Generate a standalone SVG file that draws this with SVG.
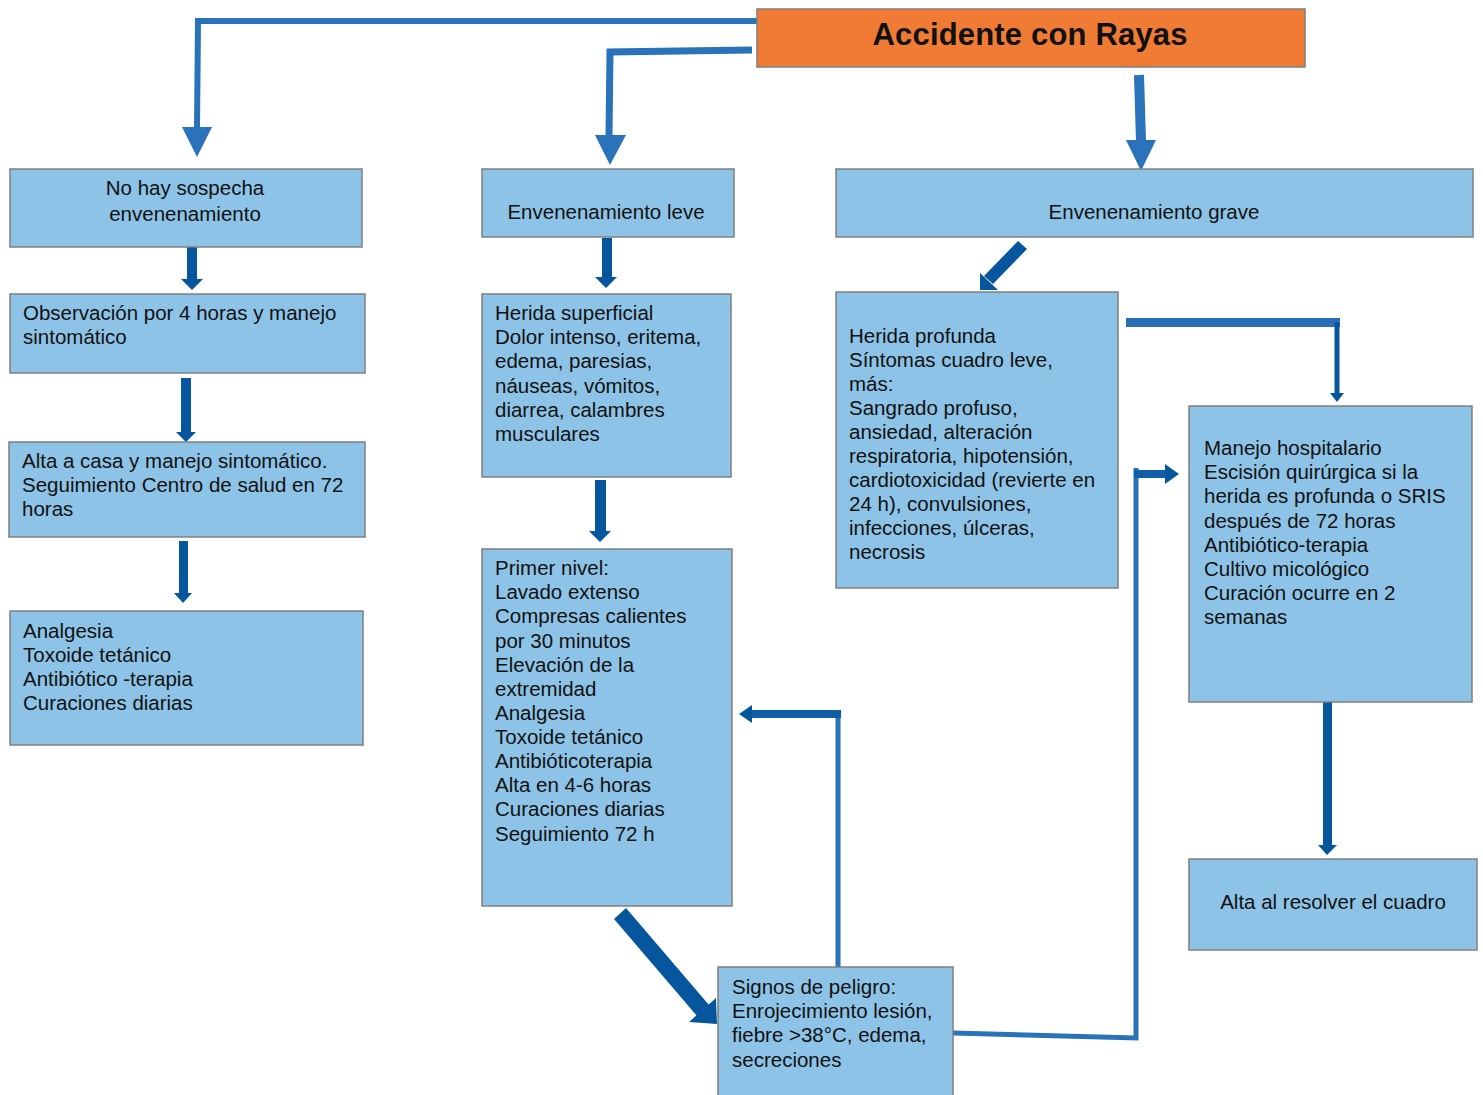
<svg xmlns="http://www.w3.org/2000/svg" width="1483" height="1095" viewBox="0 0 1483 1095">
  <style>
    .box { fill: #8DC3E6; stroke: #7F7F7F; stroke-width: 1.5; }
    .title { fill: #F07B35; stroke: #7F7F7F; stroke-width: 1.5; }
    text { font-family: "Liberation Sans", Arial, sans-serif; font-size: 20.5px; fill: #111; }
    .c { text-anchor: middle; }
    .ttl { font-size: 31px; font-weight: bold; text-anchor: middle; }
    .ln { fill: none; stroke: #2A72B9; stroke-linejoin: miter; }
    .lf { fill: #2A72B9; }
    .dk { fill: #05569D; }
    .dks { fill: none; stroke: #05569D; }
  </style>
  <rect width="1483" height="1095" fill="#FFFFFF"/>

  <!-- connectors -->
  <g id="connectors">
    <!-- root to "No hay sospecha" -->
    <polyline class="ln" stroke-width="6" points="757,21 198,21 197,128"/>
    <polygon class="lf" points="182,127 212,127 197,157"/>
    <!-- root to "Envenenamiento leve" -->
    <polyline class="ln" stroke-width="7" points="752,50 610,52 609,136"/>
    <polygon class="lf" points="595,135 626,135 610,165"/>
    <!-- root to "Envenenamiento grave" -->
    <line class="ln" stroke-width="10" x1="1139" y1="75" x2="1141" y2="141"/>
    <polygon class="lf" points="1126,140 1156,140 1141,171"/>

    <!-- left column block arrows -->
    <polygon class="dk" points="187,240 197,240 197,279 203,279 192,290 181,279 187,279"/>
    <polygon class="dk" points="181,378 191,378 191,432 196,432 186,442 176,432 181,432"/>
    <polygon class="dk" points="179,541 188,541 188,593 192,593 183,603 174,593 179,593"/>

    <!-- middle column block arrows -->
    <polygon class="dk" points="602,238 612,238 612,277 617,277 606,288 595,277 602,277"/>
    <polygon class="dk" points="595,480 606,480 606,531 611,531 600,542 589,531 595,531"/>

    <!-- diagonal: Primer nivel to Signos de peligro -->
    <polygon class="dk" points="614,919 626,908 709,1005 697,1016"/>
    <polygon class="dk" points="689,1022 716,998 717,1024"/>

    <!-- diagonal: Envenenamiento grave to Herida profunda -->
    <polygon class="dk" points="1018,241 1027,249 993,284 984,276"/>
    <polygon class="dk" points="980,273 980,290 998,290"/>

    <!-- Herida profunda to Manejo hospitalario -->
    <rect x="1126" y="318" width="214" height="9" fill="#2A6EB5"/>
    <line class="dks" stroke-width="5" x1="1337" y1="322" x2="1337" y2="395"/>
    <polygon class="dk" points="1330,393 1344,393 1337,402"/>

    <!-- Manejo hospitalario to Alta al resolver -->
    <rect x="1323" y="700" width="9" height="146" fill="#05569D"/>
    <polygon class="dk" points="1318,845 1337,845 1327,855"/>

    <!-- Signos de peligro back to Primer nivel -->
    <polyline class="ln" stroke-width="5" points="838,967 838,714 752,714"/>
    <rect x="748" y="710" width="93" height="8" fill="#0F5EA6"/>
    <polygon class="dk" points="752,705 752,723 739,714"/>

    <!-- Signos de peligro to Manejo hospitalario -->
    <polyline class="ln" stroke-width="5" points="953,1033 1136,1038 1136,468"/>
    <rect x="1134" y="470" width="34" height="8" fill="#0F5EA6"/>
    <polygon class="dk" points="1165,464 1165,484 1179,474"/>
  </g>

  <g id="n-root">
    <rect class="title" x="757" y="9" width="548" height="58"/>
    <text class="ttl" x="1030" y="45" textLength="315" lengthAdjust="spacing">Accidente con Rayas</text>
  </g>

  <g id="n-nohay">
    <rect class="box" x="10" y="169" width="352" height="78"/>
    <text class="c" x="185" y="195">No hay sospecha</text>
    <text class="c" x="185" y="221">envenenamiento</text>
  </g>

  <g id="n-leve">
    <rect class="box" x="482" y="169" width="252" height="68"/>
    <text class="c" x="606" y="219">Envenenamiento leve</text>
  </g>

  <g id="n-grave">
    <rect class="box" x="836" y="169" width="637" height="68"/>
    <text class="c" x="1154" y="219">Envenenamiento grave</text>
  </g>

  <g id="n-observacion">
    <rect class="box" x="10" y="294" width="355" height="79"/>
    <text x="23" y="320">Observación por 4 horas y manejo</text>
    <text x="23" y="344">sintomático</text>
  </g>

  <g id="n-alta-casa">
    <rect class="box" x="9" y="442" width="356" height="95"/>
    <text x="22" y="468">Alta a casa y manejo sintomático.</text>
    <text x="22" y="492">Seguimiento Centro de salud en 72</text>
    <text x="22" y="516">horas</text>
  </g>

  <g id="n-analgesia">
    <rect class="box" x="10" y="611" width="353" height="134"/>
    <text x="23" y="638">Analgesia</text>
    <text x="23" y="662">Toxoide tetánico</text>
    <text x="23" y="686">Antibiótico -terapia</text>
    <text x="23" y="710">Curaciones diarias</text>
  </g>

  <g id="n-superficial">
    <rect class="box" x="482" y="294" width="249" height="183"/>
    <text x="495" y="320">Herida superficial</text>
    <text x="495" y="344">Dolor intenso, eritema,</text>
    <text x="495" y="368">edema, paresias,</text>
    <text x="495" y="393">náuseas, vómitos,</text>
    <text x="495" y="417">diarrea, calambres</text>
    <text x="495" y="441">musculares</text>
  </g>

  <g id="n-primer-nivel">
    <rect class="box" x="482" y="549" width="250" height="357"/>
    <text x="495" y="575">Primer nivel:</text>
    <text x="495" y="599">Lavado extenso</text>
    <text x="495" y="623">Compresas calientes</text>
    <text x="495" y="648">por 30 minutos</text>
    <text x="495" y="672">Elevación de la</text>
    <text x="495" y="696">extremidad</text>
    <text x="495" y="720">Analgesia</text>
    <text x="495" y="744">Toxoide tetánico</text>
    <text x="495" y="768">Antibióticoterapia</text>
    <text x="495" y="792">Alta en 4-6 horas</text>
    <text x="495" y="816">Curaciones diarias</text>
    <text x="495" y="841">Seguimiento 72 h</text>
  </g>

  <g id="n-signos">
    <rect class="box" x="718" y="967" width="235" height="135"/>
    <text x="732" y="994">Signos de peligro:</text>
    <text x="732" y="1018">Enrojecimiento lesión,</text>
    <text x="732" y="1042">fiebre &gt;38°C, edema,</text>
    <text x="732" y="1067">secreciones</text>
  </g>

  <g id="n-profunda">
    <rect class="box" x="836" y="292" width="282" height="296"/>
    <text x="849" y="343">Herida profunda</text>
    <text x="849" y="367">Síntomas cuadro leve,</text>
    <text x="849" y="391">más:</text>
    <text x="849" y="415">Sangrado profuso,</text>
    <text x="849" y="439">ansiedad, alteración</text>
    <text x="849" y="463">respiratoria, hipotensión,</text>
    <text x="849" y="487">cardiotoxicidad (revierte en</text>
    <text x="849" y="511">24 h), convulsiones,</text>
    <text x="849" y="535">infecciones, úlceras,</text>
    <text x="849" y="559">necrosis</text>
  </g>

  <g id="n-hospitalario">
    <rect class="box" x="1189" y="406" width="283" height="296"/>
    <text x="1204" y="455">Manejo hospitalario</text>
    <text x="1204" y="479">Escisión quirúrgica si la</text>
    <text x="1204" y="503">herida es profunda o SRIS</text>
    <text x="1204" y="528">después de 72 horas</text>
    <text x="1204" y="552">Antibiótico-terapia</text>
    <text x="1204" y="576">Cultivo micológico</text>
    <text x="1204" y="600">Curación ocurre en 2</text>
    <text x="1204" y="624">semanas</text>
  </g>

  <g id="n-alta-final">
    <rect class="box" x="1189" y="859" width="288" height="91"/>
    <text class="c" x="1333" y="909">Alta al resolver el cuadro</text>
  </g>
</svg>
